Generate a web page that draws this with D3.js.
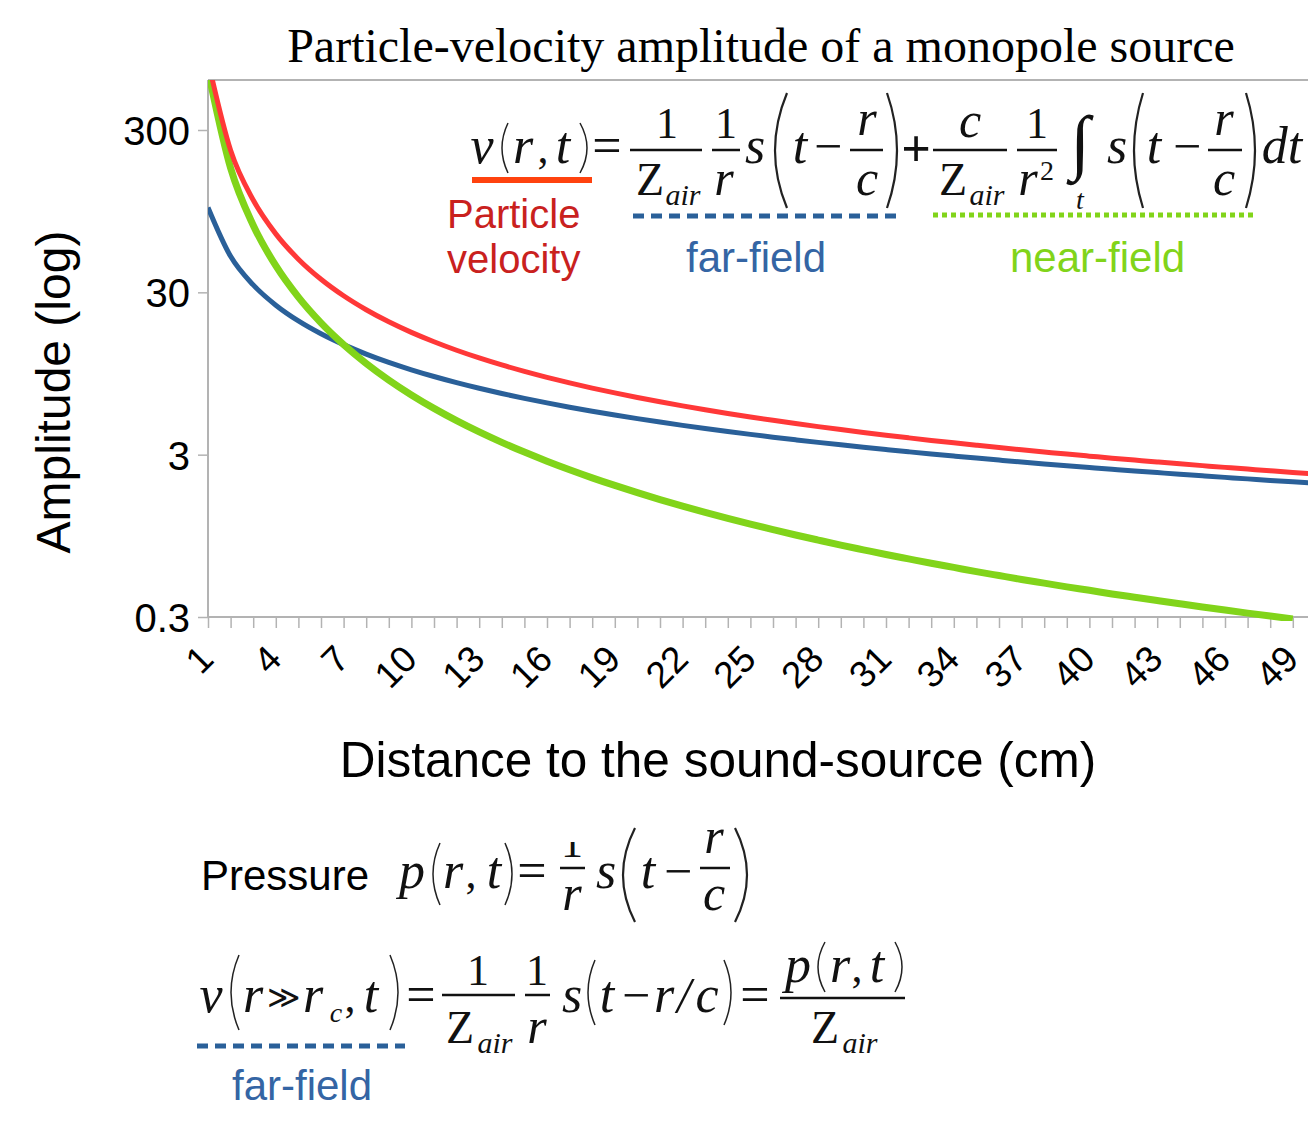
<!DOCTYPE html>
<html>
<head>
<meta charset="utf-8">
<script src="https://cdn.jsdelivr.net/npm/d3@7"></script>
<style>
  body { margin: 0; background: #fff; }
</style>
</head>
<body>
<script>
// distance to the source (cm), one point per cm
const distance = [1,2,3,4,5,6,7,8,9,10,11,12,13,14,15,16,17,18,19,20,21,22,23,24,25,
                  26,27,28,29,30,31,32,33,34,35,36,37,38,39,40,41,42,43,44,45,46,47,48,49,50];

// amplitudes
const farField = [100,50,33.33,25,20,16.67,14.29,12.5,11.11,10,9.091,8.333,7.692,7.143,6.667,6.25,5.882,5.556,5.263,5,
                  4.762,4.545,4.348,4.167,4,3.846,3.704,3.571,3.448,3.333,3.226,3.125,3.030,2.941,2.857,2.778,2.703,2.632,2.564,2.5,
                  2.439,2.381,2.326,2.273,2.222,2.174,2.128,2.083,2.041,2];
const nearField = [700,175,77.78,43.75,28,19.44,14.29,10.94,8.642,7,5.785,4.861,4.142,3.571,3.111,2.734,2.422,2.160,1.939,1.75,
                   1.587,1.446,1.323,1.215,1.12,1.036,0.960,0.893,0.832,0.778,0.728,0.684,0.643,0.606,0.571,0.540,0.511,0.485,0.460,0.438,
                   0.416,0.397,0.379,0.362,0.346,0.331,0.317,0.304,0.292];
const velocity = [800,225,111.1,68.75,48,36.11,28.57,23.44,19.75,17,14.88,13.19,11.83,10.71,9.778,8.984,8.304,7.716,7.202,6.75,
                  6.349,5.992,5.671,5.382,5.12,4.882,4.664,4.464,4.281,4.111,3.954,3.809,3.673,3.547,3.429,3.318,3.214,3.117,3.024,2.938,
                  2.855,2.778,2.704,2.634,2.568,2.505,2.445,2.387,2.332,2.28];

const xTickLabels = [1,4,7,10,13,16,19,22,25,28,31,34,37,40,43,46,49];
const yTicks = [0.3, 3, 30, 300];

const SANS = "'Liberation Sans', Arial, sans-serif";
const SERIF = "'Liberation Serif', 'Times New Roman', serif";
const GRAY = "#b3b3b3";

const width = 1308, height = 1128;
const svg = d3.select("body").append("svg")
    .attr("width", width)
    .attr("height", height);
svg.append("rect").attr("width", width).attr("height", height).attr("fill", "#fff");

// plot box
const plotTop = 80, plotBottom = 617, plotLeft = 208;
const x = d3.scaleLinear().domain([1, 50]).range([plotLeft, 1315.4]);
const y = d3.scaleLog().domain([0.3, 300]).range([plotBottom, 130]);

// title
svg.append("text")
    .attr("x", 761).attr("y", 62)
    .attr("text-anchor", "middle")
    .attr("font-family", SERIF).attr("font-size", 48)
    .text("Particle-velocity amplitude of a monopole source");

// axes
const gx = svg.append("g")
    .attr("transform", `translate(0,${plotBottom})`)
    .call(d3.axisBottom(x)
        .tickValues(distance)
        .tickSize(11)
        .tickSizeOuter(0)
        .tickFormat(d => xTickLabels.includes(d) ? d : ""));
gx.select(".domain").remove();
gx.selectAll(".tick line").attr("stroke", GRAY).attr("stroke-width", 1.5);
gx.selectAll(".tick text")
    .attr("x", 0).attr("y", 0).attr("dy", "0.35em")
    .attr("text-anchor", "end")
    .attr("transform", "translate(-2,35) rotate(-45)")
    .attr("font-family", SANS).attr("font-size", 37).attr("fill", "#000");

const gy = svg.append("g")
    .attr("transform", `translate(${plotLeft},0)`)
    .call(d3.axisLeft(y).tickValues(yTicks).tickSize(10).tickFormat(d => d));
gy.select(".domain").remove();
gy.selectAll(".tick line").attr("stroke", GRAY).attr("stroke-width", 1.5);
gy.selectAll(".tick text")
    .attr("x", -18).attr("dy", "0.36em")
    .attr("font-family", SANS).attr("font-size", 40).attr("fill", "#000");

// frame
const frame = svg.append("g").attr("stroke", GRAY).attr("stroke-width", 2);
frame.append("line").attr("x1", plotLeft).attr("x2", width).attr("y1", plotTop).attr("y2", plotTop);
frame.append("line").attr("x1", plotLeft).attr("x2", width).attr("y1", plotBottom).attr("y2", plotBottom);
frame.append("line").attr("x1", plotLeft).attr("x2", plotLeft).attr("y1", plotTop).attr("y2", plotBottom);

// axis titles
svg.append("text")
    .attr("x", 718).attr("y", 777)
    .attr("text-anchor", "middle")
    .attr("font-family", SANS).attr("font-size", 49.5)
    .text("Distance to the sound-source (cm)");
svg.append("text")
    .attr("transform", "translate(70,392) rotate(-90)")
    .attr("text-anchor", "middle")
    .attr("font-family", SANS).attr("font-size", 48)
    .text("Amplitude (log)");

// curves
svg.append("clipPath").attr("id", "clip")
    .append("rect").attr("x", plotLeft).attr("y", plotTop)
    .attr("width", width - plotLeft).attr("height", plotBottom - plotTop + 4);

const line = d3.line()
    .x((d, i) => x(distance[i]))
    .y(d => y(d))
    .curve(d3.curveMonotoneX);

const series = [
    {values: farField, color: "#2a6099", w: 5},
    {values: nearField, color: "#81d41a", w: 7},
    {values: velocity, color: "#ff3838", w: 5}
];
svg.append("g").attr("clip-path", "url(#clip)")
    .selectAll("path")
    .data(series)
    .enter().append("path")
    .attr("d", d => line(d.values))
    .attr("fill", "none")
    .attr("stroke", d => d.color)
    .attr("stroke-width", d => d.w)
    .attr("stroke-linejoin", "round");

// ---- formulas ----
const math = svg.append("g").attr("font-family", SERIF).attr("fill", "#111");

// [text, centre x, baseline, size, italic, bold]
function glyphs(list, parent = math) {
    list.forEach(([s, cx, by, size, it, bold]) => {
        parent.append("text")
            .attr("x", cx).attr("y", by)
            .attr("text-anchor", "middle")
            .attr("font-size", size)
            .attr("font-style", it ? "italic" : "normal")
            .attr("font-weight", bold ? "bold" : "normal")
            .text(s);
    });
}
function bars(list) {
    list.forEach(([x0, x1, yy]) => {
        math.append("line").attr("x1", x0).attr("x2", x1).attr("y1", yy).attr("y2", yy)
            .attr("stroke", "#111").attr("stroke-width", 2.5);
    });
}
// [side, x0, x1, y0, y1, stroke width]
function parens(list) {
    list.forEach(([side, x0, x1, y0, y1, sw]) => {
        const m = (y0 + y1) / 2;
        const d = side === "L"
            ? `M${x1},${y0}Q${x0 - (x1 - x0)},${m} ${x1},${y1}`
            : `M${x0},${y0}Q${x1 + (x1 - x0)},${m} ${x0},${y1}`;
        math.append("path").attr("d", d).attr("fill", "none")
            .attr("stroke", "#222").attr("stroke-width", sw);
    });
}

// particle velocity equation
glyphs([
    ["v", 482, 163, 52, true], ["r", 523, 163, 52, true], [",", 543, 163, 44, false], ["t", 563, 163, 52, true],
    ["=", 607, 163, 52, false],
    ["1", 667, 138, 44, false], ["Z", 650, 195, 46, false], ["air", 683, 205, 30, true],
    ["1", 726, 138, 44, false], ["r", 724, 195, 50, true],
    ["s", 755, 163, 52, true], ["t", 800, 163, 52, true], ["\u2212", 828, 163, 50, false],
    ["r", 867, 135, 50, true], ["c", 867, 195, 50, true],
    ["+", 916, 166, 52, false, true],
    ["c", 970, 137, 50, true], ["Z", 953, 195, 46, false], ["air", 987, 205, 30, true],
    ["1", 1037, 138, 44, false], ["r", 1028, 195, 50, true], ["2", 1047, 180, 28, false],
    ["\u222B", 1080, 166, 72, false], ["t", 1080, 209, 28, true],
    ["s", 1117, 163, 52, true], ["t", 1154, 163, 52, true], ["\u2212", 1187, 163, 50, false],
    ["r", 1224, 135, 50, true], ["c", 1224, 195, 50, true],
    ["dt", 1282, 163, 52, true]
]);
bars([[630, 702, 150], [712, 740, 150], [850, 883, 150], [933, 1007, 150], [1017, 1057, 150], [1208, 1242, 150]]);
parens([
    ["L", 502, 508, 123, 173, 1.5], ["R", 580, 587, 123, 173, 1.5],
    ["L", 775, 787, 93, 208, 2.2], ["R", 887, 897, 93, 208, 2.2],
    ["L", 1134, 1143, 93, 208, 2.2], ["R", 1246, 1255, 93, 208, 2.2]
]);

// pressure equation
svg.append("text").attr("x", 201).attr("y", 890)
    .attr("font-family", SANS).attr("font-size", 42).text("Pressure");
svg.append("clipPath").attr("id", "clipOne")
    .append("rect").attr("x", 550).attr("y", 842).attr("width", 45).attr("height", 30);
glyphs([["1", 572, 857, 44, false]], math.append("g").attr("clip-path", "url(#clipOne)"));
glyphs([
    ["p", 412, 888, 52, true], ["r", 453, 888, 52, true], [",", 471, 888, 44, false], ["t", 494, 888, 52, true],
    ["=", 532, 888, 52, false],
    ["r", 572, 910, 50, true],
    ["s", 606, 888, 52, true], ["t", 648, 888, 52, true], ["\u2212", 678, 888, 50, false],
    ["r", 714, 853, 50, true], ["c", 714, 910, 50, true]
]);
bars([[560, 585, 868], [700, 730, 868]]);
parens([
    ["L", 433, 440, 843, 905, 1.5], ["R", 505, 512, 843, 905, 1.5],
    ["L", 623, 635, 828, 922, 2.2], ["R", 735, 747, 828, 922, 2.2]
]);

// far-field approximation
glyphs([
    ["v", 211, 1012, 52, true], ["r", 253, 1012, 52, true], ["\u226B", 284, 1008, 32, false],
    ["r", 313, 1012, 52, true], ["c", 336, 1022, 28, true], [",", 350, 1012, 44, false], ["t", 371, 1012, 52, true],
    ["=", 421, 1012, 52, false],
    ["1", 478, 985, 44, false], ["Z", 460, 1043, 46, false], ["air", 495, 1053, 30, true],
    ["1", 537, 985, 44, false], ["r", 537, 1043, 50, true],
    ["s", 572, 1012, 52, true], ["t", 607, 1012, 52, true], ["\u2212", 636, 1012, 50, false],
    ["r", 664, 1012, 52, true], ["/", 684, 1012, 50, true], ["c", 707, 1012, 52, true],
    ["=", 755, 1012, 52, false],
    ["p", 798, 982, 52, true], ["r", 840, 982, 52, true], [",", 857, 982, 44, false], ["t", 877, 982, 52, true],
    ["Z", 825, 1043, 46, false], ["air", 860, 1053, 30, true]
]);
bars([[442, 515, 995], [525, 550, 995], [780, 905, 998]]);
parens([
    ["L", 231, 239, 955, 1030, 1.5], ["R", 390, 398, 955, 1030, 1.5],
    ["L", 588, 595, 960, 1025, 1.5], ["R", 724, 731, 960, 1025, 1.5],
    ["L", 818, 825, 942, 992, 1.5], ["R", 895, 902, 942, 992, 1.5]
]);

// labels and underlines
const labels = svg.append("g").attr("font-family", SANS);
labels.append("text").attr("x", 447).attr("y", 228).attr("font-size", 40).attr("fill", "#c9211e").text("Particle");
labels.append("text").attr("x", 447).attr("y", 273).attr("font-size", 40).attr("fill", "#c9211e").text("velocity");
labels.append("text").attr("x", 686).attr("y", 272).attr("font-size", 42).attr("fill", "#3465a4").text("far-field");
labels.append("text").attr("x", 1010).attr("y", 272).attr("font-size", 42).attr("fill", "#81d41a").text("near-field");
labels.append("text").attr("x", 232).attr("y", 1100).attr("font-size", 42).attr("fill", "#3465a4").text("far-field");

const marks = svg.append("g").attr("fill", "none");
marks.append("line").attr("x1", 472).attr("x2", 592).attr("y1", 180).attr("y2", 180)
    .attr("stroke", "#ff420e").attr("stroke-width", 6);
marks.append("line").attr("x1", 633).attr("x2", 898).attr("y1", 216).attr("y2", 216)
    .attr("stroke", "#2a6099").attr("stroke-width", 5).attr("stroke-dasharray", "11,7");
marks.append("line").attr("x1", 933).attr("x2", 1255).attr("y1", 215).attr("y2", 215)
    .attr("stroke", "#81d41a").attr("stroke-width", 5).attr("stroke-dasharray", "5,4");
marks.append("line").attr("x1", 197).attr("x2", 405).attr("y1", 1046).attr("y2", 1046)
    .attr("stroke", "#2a6099").attr("stroke-width", 5).attr("stroke-dasharray", "11,7");
</script>
</body>
</html>
